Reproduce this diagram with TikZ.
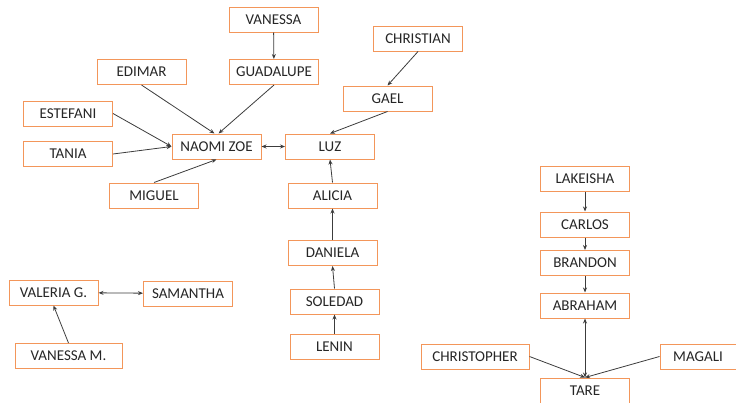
\documentclass[tikz,border=0pt]{standalone}
\usepackage{fontspec}
\setmainfont{Carlito}
\usepackage{tikz}
\usetikzlibrary{positioning, arrows.meta}
\definecolor{boxOrange}{RGB}{243, 150, 90}
\definecolor{lineGray}{RGB}{60, 60, 60}

\begin{document}
\begin{tikzpicture}[
    x=1pt, y=-1pt,
    namebox/.style={rectangle, draw=boxOrange, line width=1pt, fill=white,
                    minimum width=89pt, minimum height=25pt, inner sep=0pt,
                    font=\fontsize{15}{17}\selectfont, text=black!85},
    arrow/.style={-{Stealth[length=5pt, width=4pt]}, lineGray, line width=0.8pt},
    biarrow/.style={{Stealth[length=5pt, width=4pt]}-{Stealth[length=5pt, width=4pt]},
                    lineGray, line width=0.8pt},
  ]
    \useasboundingbox (0,0) rectangle (736,402);

    % left cluster
    \node[namebox] (VAN) at (273.5,19.5) {VANESSA};
    \node[namebox] (GUA) at (274,72) {GUADALUPE};
    \node[namebox] (EDI) at (141.5,72) {EDIMAR};
    \node[namebox] (EST) at (68,113.5) {ESTEFANI};
    \node[namebox] (TAN) at (68,154) {TANIA};
    \node[namebox] (NAO) at (216.5,146.5) {NAOMI ZOE};
    \node[namebox] (MIG) at (154,195.5) {MIGUEL};

    % luz chain
    \node[namebox] (LUZ) at (330,146.5) {LUZ};
    \node[namebox] (CHR) at (418,38.5) {CHRISTIAN};
    \node[namebox] (GAE) at (387.5,98.5) {GAEL};
    \node[namebox] (ALI) at (332.5,195.5) {ALICIA};
    \node[namebox] (DAN) at (332.5,253) {DANIELA};
    \node[namebox] (SOL) at (334.5,301.5) {SOLEDAD};
    \node[namebox] (LEN) at (334.5,346.5) {LENIN};

    % valeria
    \node[namebox] (VAL) at (53.5,292.5) {VALERIA G.};
    \node[namebox] (SAM) at (188,293.5) {SAMANTHA};
    \node[namebox, minimum width=107pt] (VNM) at (68.5,356) {VANESSA M.};

    % right chain
    \node[namebox] (LAK) at (585,178.5) {LAKEISHA};
    \node[namebox] (CAR) at (585,224.5) {CARLOS};
    \node[namebox] (BRA) at (585,263) {BRANDON};
    \node[namebox] (ABR) at (585,305.5) {ABRAHAM};
    \node[namebox, minimum width=108pt] (CTP) at (475,356.5) {CHRISTOPHER};
    \node[namebox, minimum width=76pt] (MAG) at (698,356.5) {MAGALI};
    \node[namebox] (TAR) at (585,390.5) {TARE};

    \draw[arrow] (VAN) -- (GUA);
    \draw[arrow] (EDI.south) -- ([xshift=-2pt]NAO.north);
    \draw[arrow] (GUA.south) -- ([xshift=2pt]NAO.north);
    \draw[arrow] (EST.east) -- (NAO.west);
    \draw[arrow] (TAN.east) -- (NAO.west);
    \draw[arrow] (MIG.north) -- (NAO.south);
    \draw[biarrow] (NAO) -- (LUZ);

    \draw[arrow] (CHR.south) -- (GAE.north);
    \draw[arrow] (GAE.south) -- (LUZ.north);
    \draw[arrow] (ALI.north) -- (LUZ.south);
    \draw[arrow] (DAN.north) -- (ALI.south);
    \draw[arrow] (SOL.north) -- (DAN.south);
    \draw[arrow] (LEN) -- (SOL);

    \draw[biarrow] (VAL) -- (SAM);
    \draw[arrow] (VNM.north) -- (VAL.south);

    \draw[arrow] (LAK) -- (CAR);
    \draw[arrow] (CAR) -- (BRA);
    \draw[arrow] (BRA) -- (ABR);
    \draw[biarrow] (ABR) -- (TAR);
    \draw[arrow] (CTP.east) -- (TAR.north);
    \draw[arrow] (MAG.west) -- (TAR.north);
  \end{tikzpicture}
\end{document}
